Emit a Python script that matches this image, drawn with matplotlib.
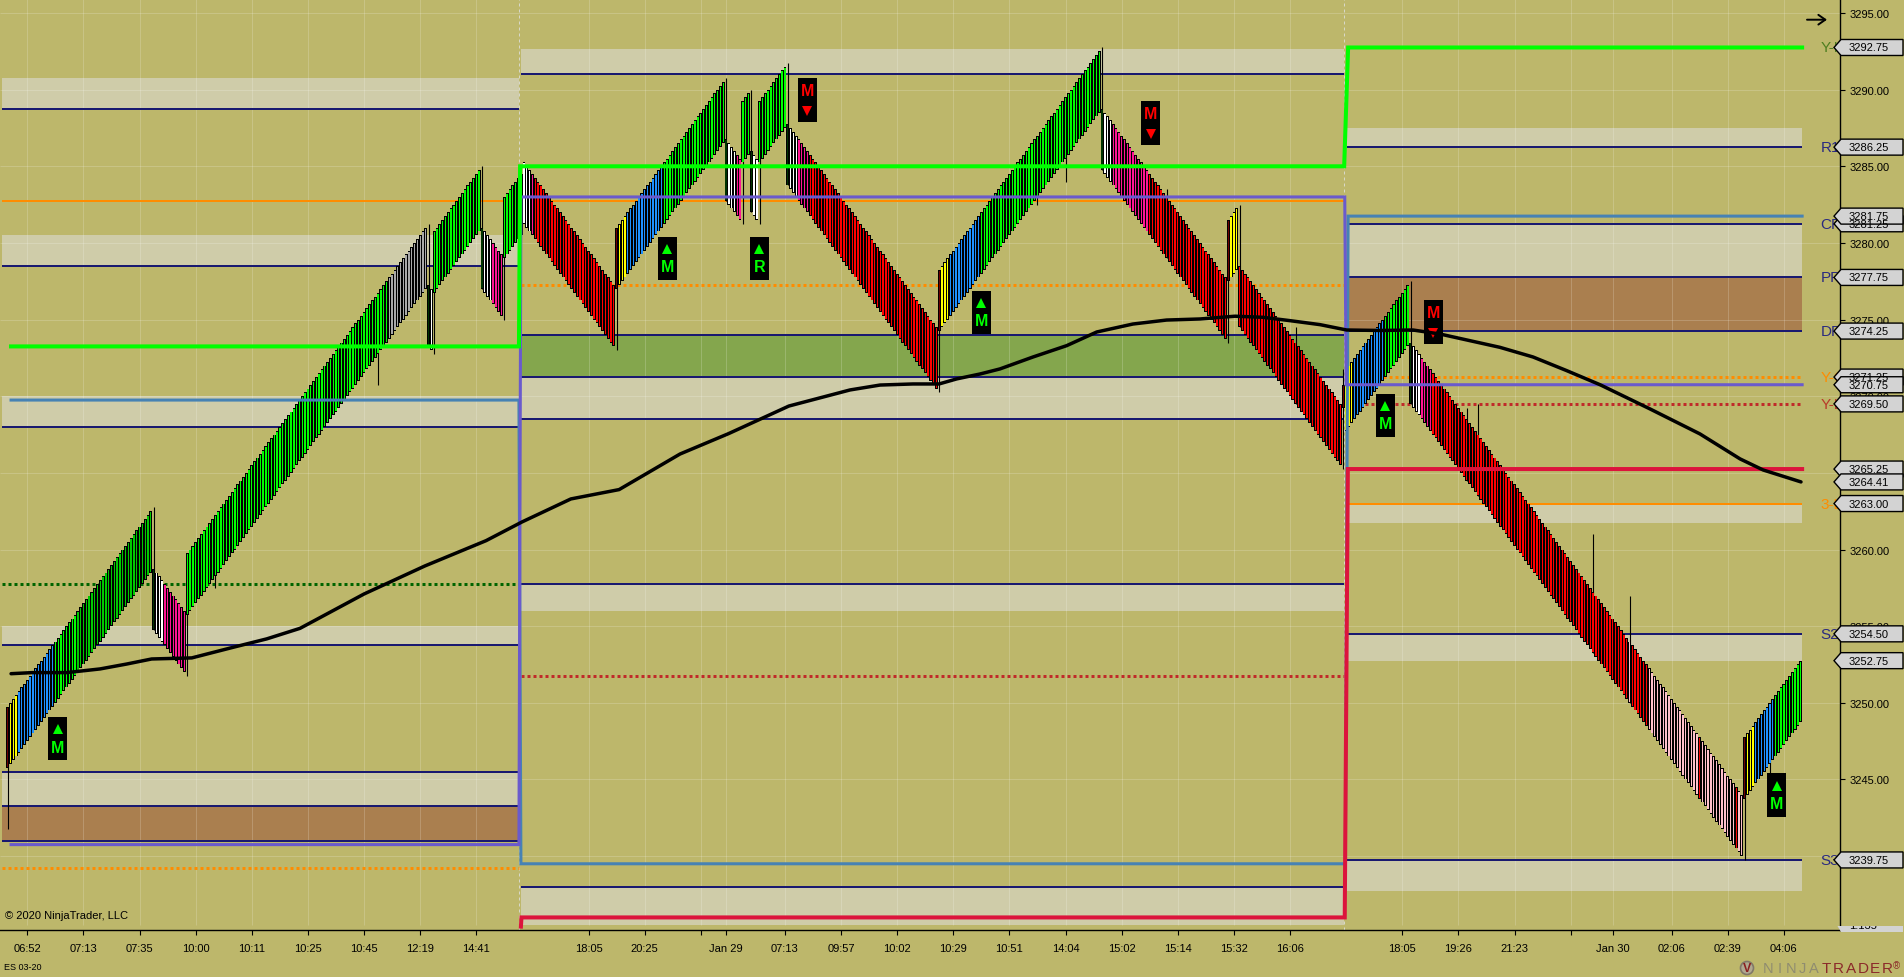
#!/usr/bin/env python
# file name: plot.py
# ES 03-20 renko style chart with session levels

import matplotlib
matplotlib.use('Agg')
import matplotlib.pyplot as plt
from matplotlib.patches import Polygon, Rectangle, Circle
from matplotlib.transforms import IdentityTransform

plt.rcParams['font.family'] = ['Liberation Sans', 'DejaVu Sans']

# closing price of every bar, one row per swing
bar_close = [
    3249.75,3250,3250.25,3250.5,3250.75,3251,3251.25,3251.5,3251.75,3252,3252.25,3252.5,3252.75,
    3253,3253.25,3253.5,3253.75,3254,3254.25,3254.5,3254.75,3255,3255.25,3255.5,3255.75,3256,
    3256.25,3256.5,3256.75,3257,3257.25,3257.5,3257.75,3258,3258.25,3258.5,3258.75,3259,3259.25,
    3259.5,3259.75,3260,3260.25,3260.5,3260.75,3261,3261.25,3261.5,3261.75,3262,3262.25,3262.5,
    3254.75,3254.5,3254.25,3254,3253.75,3253.5,3253.25,3253,3252.75,3252.5,3252.25,3252,
    3259.75,3260,3260.25,3260.5,3260.75,3261,3261.25,3261.5,3261.75,3262,3262.25,3262.5,3262.75,
    3263,3263.25,3263.5,3263.75,3264,3264.25,3264.5,3264.75,3265,3265.25,3265.5,3265.75,3266,
    3266.25,3266.5,3266.75,3267,3267.25,3267.5,3267.75,3268,3268.25,3268.5,3268.75,3269,3269.25,
    3269.5,3269.75,3270,3270.25,3270.5,3270.75,3271,3271.25,3271.5,3271.75,3272,3272.25,3272.5,
    3272.75,3273,3273.25,3273.5,3273.75,3274,3274.25,3274.5,3274.75,3275,3275.25,3275.5,3275.75,
    3276,3276.25,3276.5,3276.75,3277,3277.25,3277.5,3277.75,3278,3278.25,3278.5,3278.75,3279,
    3279.25,3279.5,3279.75,3280,3280.25,3280.5,3280.75,3281,
    3273.25,3273,
    3280.75,3281,3281.25,3281.5,3281.75,3282,3282.25,3282.5,3282.75,3283,3283.25,3283.5,3283.75,
    3284,3284.25,3284.5,3284.75,
    3277,3276.75,3276.5,3276.25,3276,3275.75,3275.5,3275.25,
    3283,3283.25,3283.5,3283.75,3284,3284.25,3284.5,
    3281.25,3281,3280.75,3280.5,3280.25,3280,3279.75,3279.5,3279.25,3279,3278.75,3278.5,3278.25,
    3278,3277.75,3277.5,3277.25,3277,3276.75,3276.5,3276.25,3276,3275.75,3275.5,3275.25,3275,
    3274.75,3274.5,3274.25,3274,3273.75,3273.5,3273.25,
    3281,3281.25,3281.5,3281.75,3282,3282.25,3282.5,3282.75,3283,3283.25,3283.5,3283.75,3284,
    3284.25,3284.5,3284.75,3285,3285.25,3285.5,3285.75,3286,3286.25,3286.5,3286.75,3287,3287.25,
    3287.5,3287.75,3288,3288.25,3288.5,3288.75,3289,3289.25,3289.5,3289.75,3290,3290.25,3290.5,
    3282.75,3282.5,3282.25,3282,3281.75,3281.5,
    3289.25,3289.5,3289.75,
    3282,3281.75,3281.5,
    3289.25,3289.5,3289.75,3290,3290.25,3290.5,3290.75,3291,3291.25,3291.5,
    3283.75,3283.5,3283.25,3283,3282.75,3282.5,3282.25,3282,3281.75,3281.5,3281.25,3281,3280.75,
    3280.5,3280.25,3280,3279.75,3279.5,3279.25,3279,3278.75,3278.5,3278.25,3278,3277.75,3277.5,
    3277.25,3277,3276.75,3276.5,3276.25,3276,3275.75,3275.5,3275.25,3275,3274.75,3274.5,3274.25,
    3274,3273.75,3273.5,3273.25,3273,3272.75,3272.5,3272.25,3272,3271.75,3271.5,3271.25,3271,
    3270.75,3270.5,
    3278.25,3278.5,3278.75,3279,3279.25,3279.5,3279.75,3280,3280.25,3280.5,3280.75,3281,3281.25,
    3281.5,3281.75,3282,3282.25,3282.5,3282.75,3283,3283.25,3283.5,3283.75,3284,3284.25,3284.5,
    3284.75,3285,3285.25,3285.5,3285.75,3286,3286.25,3286.5,3286.75,3287,3287.25,3287.5,3287.75,
    3288,3288.25,3288.5,3288.75,3289,3289.25,3289.5,3289.75,3290,3290.25,3290.5,3290.75,3291,
    3291.25,3291.5,3291.75,3292,3292.25,3292.5,
    3284.75,3284.5,3284.25,3284,3283.75,3283.5,3283.25,3283,3282.75,3282.5,3282.25,3282,3281.75,
    3281.5,3281.25,3281,3280.75,3280.5,3280.25,3280,3279.75,3279.5,3279.25,3279,3278.75,3278.5,
    3278.25,3278,3277.75,3277.5,3277.25,3277,3276.75,3276.5,3276.25,3276,3275.75,3275.5,3275.25,
    3275,3274.75,3274.5,3274.25,3274,3273.75,
    3281.5,3281.75,3282,3282.25,
    3274.5,3274.25,3274,3273.75,3273.5,3273.25,3273,3272.75,3272.5,3272.25,3272,3271.75,3271.5,
    3271.25,3271,3270.75,3270.5,3270.25,3270,3269.75,3269.5,3269.25,3269,3268.75,3268.5,3268.25,
    3268,3267.75,3267.5,3267.25,3267,3266.75,3266.5,3266.25,3266,3265.75,3265.5,
    3270.75,3271.75,
    3272,3272.25,3272.5,3272.75,3273,3273.25,3273.5,3273.75,3274,3274.25,3274.5,3274.75,3275,
    3275.25,3275.5,3275.75,3276,3276.25,3276.5,3276.75,3277,3277.25,
    3269.5,3269.25,3269,3268.75,3268.5,3268.25,3268,3267.75,3267.5,3267.25,3267,3266.75,3266.5,
    3266.25,3266,3265.75,3265.5,3265.25,3265,3264.75,3264.5,3264.25,3264,3263.75,3263.5,3263.25,
    3263,3262.75,3262.5,3262.25,3262,3261.75,3261.5,3261.25,3261,3260.75,3260.5,3260.25,3260,
    3259.75,3259.5,3259.25,3259,3258.75,3258.5,3258.25,3258,3257.75,3257.5,3257.25,3257,3256.75,
    3256.5,3256.25,3256,3255.75,3255.5,3255.25,3255,3254.75,3254.5,3254.25,3254,3253.75,3253.5,
    3253.25,3253,3252.75,3252.5,3252.25,3252,3251.75,3251.5,3251.25,3251,3250.75,3250.5,3250.25,
    3250,3249.75,3249.5,3249.25,3249,3248.75,3248.5,3248.25,3248,3247.75,3247.5,3247.25,3247,
    3246.75,3246.5,3246.25,3246,3245.75,3245.5,3245.25,3245,3244.75,3244.5,3244.25,3244,3243.75,
    3243.5,3243.25,3243,3242.75,3242.5,3242.25,3242,3241.75,3241.5,3241.25,3241,3240.75,3240.5,
    3240.25,3240,
    3247.75,3248,3248.25,3248.5,3248.75,3249,3249.25,3249.5,3249.75,3250,3250.25,3250.5,3250.75,
    3251,3251.25,3251.5,3251.75,3252,3252.25,3252.5,3252.75,
]

# bars whose body is not the usual 4 points
short_bar_open = {476: 3269.25}

# colour of the bars as (number of bars, colour key)
colour_runs = [
    (1,'dr'),(3,'y'),(13,'b'),(8,'l'),(27,'g'),
    (1,'dg'),(3,'w'),(8,'p'),
    (72,'l'),(14,'a'),
    (1,'dg'),(1,'w'),
    (17,'l'),
    (1,'dg'),(3,'w'),(4,'p'),
    (7,'l'),
    (3,'w'),(1,'p'),(29,'r'),
    (1,'dr'),(3,'y'),(13,'b'),(22,'l'),
    (1,'dg'),(3,'w'),(2,'p'),
    (3,'l'),
    (1,'dg'),(2,'w'),
    (10,'l'),
    (1,'dg'),(3,'w'),(4,'p'),(46,'r'),
    (1,'dr'),(3,'y'),(11,'b'),(43,'l'),
    (1,'dg'),(3,'w'),(13,'p'),(28,'r'),
    (1,'dr'),(3,'y'),
    (37,'r'),
    (1,'dr'),(3,'y'),(11,'b'),(9,'l'),
    (1,'dg'),(3,'w'),(4,'p'),(70,'r'),(1,'k'),(6,'r'),(18,'k'),(1,'r'),(12,'k'),(1,'r'),(2,'k'),
    (1,'dr'),(3,'y'),(7,'b'),(10,'l'),
]
bar_colours = {'dr':'#6e0000','y':'#ffff00','b':'#1e90ff','l':'#00ff00','g':'#00c800','a':'#a9a9a9',
               'dg':'#003300','w':'#ffffff','p':'#ff1493','r':'#ff0000','k':'#ffc0cb'}

# wicks: bar index, far end of the wick
wick_bar =   [0,52,64,74,132,150,152,169,177,217,256,262,265,268,278,332,367,377,390,413,435,439,459,476,476,500,520,524,565,578,619,628]
wick_price = [3241.75,3262.75,3251.75,3257.5,3270.75,3281.25,3272.75,3285,3275,3273,3290.75,3281.25,3290,3281.25,3291.75,
              3270.25,3282.5,3284,3292.75,3283.5,3273.5,3282.5,3274.5,3271.75,3265.25,3277.5,3269.25,3269.5,3261,3257,3239.75,3245.25]

# moving average
ema_bar = [1.2,8.7,21,32.9,42.4,51.3,65.6,80.3,92.3,104.2,127,148.7,170.5,183.3,200.7,217.9,239.6,256.9,278.4,300.2,
           310.9,322.6,331.9,338.2,346.5,353.6,365.4,377.4,388.1,401,413,424.9,437.4,447.3,457,467.7,477.2,489.1,
           500.8,510.4,531.8,543.6,555.6,567.5,585.3,603.1,617.4,625.6,639.1]
ema_price = [3251.9,3251.97,3251.97,3252.21,3252.53,3252.86,3252.93,3253.62,3254.17,3254.86,3257.1,3258.93,3260.58,3261.8,
             3263.3,3263.91,3266.23,3267.56,3269.36,3270.41,3270.73,3270.8,3270.8,3271.13,3271.45,3271.78,3272.56,3273.3,
             3274.19,3274.71,3274.97,3275.04,3275.22,3275.15,3274.93,3274.67,3274.32,3274.29,3274.32,3274.06,3273.19,
             3272.56,3271.67,3270.75,3269.17,3267.54,3265.91,3265.19,3264.41]

# x ticks
tick_bar =   [7,27,47,67,87,107,127,147,167,207,227,247,256,277,297,317,337,357,377,397,417,437,457,497,517,537,557,572,593,613,633]
tick_label = ['06:52','07:13','07:35','10:00','10:11','10:25','10:45','12:19','14:41','18:05','20:25','','Jan 29','07:13',
              '09:57','10:02','10:29','10:51','14:04','15:02','15:14','15:32','16:06','18:05','19:26','21:23','','Jan 30',
              '02:06','02:39','04:06']
price_ticks = [3240,3245,3250,3255,3260,3265,3270,3275,3280,3285,3290,3295]

# sessions in bar units
s1 = (-2, 182.2)
s2 = (182.9, 476.3)
s3 = (477.3, 639.5)

# zones: session, top, bottom, colour key
zone_session = [s1,s1,s1,s1,s1,s1, s2,s2,s2,s2,s2, s3,s3,s3,s3,s3,s3]
zone_top =    [3290.75,3280.5,3270,3255,3245.5,3243.25, 3292.65,3274,3271.25,3257.75,3238, 3287.5,3281.25,3277.75,3263,3254.5,3239.75]
zone_bottom = [3288.75,3278.5,3268,3253.75,3243.25,3241, 3291,3271.25,3268.5,3256,3235.5, 3286.25,3277.75,3274.25,3261.75,3252.75,3237.75]
zone_kind =   ['l','l','l','l','l','b', 'l','g','l','l','l', 'l','l','b','l','l','l']
zone_colours = {'l':'#cfcca9','b':'#aa7f4f','g':'#84a64d'}

# thin navy levels
navy_session = [s1,s1,s1,s1,s1,s1,s1, s2,s2,s2,s2,s2,s2, s3,s3,s3,s3,s3,s3]
navy_price = [3288.75,3278.5,3268,3253.75,3245.5,3243.25,3241, 3291,3274,3271.25,3268.5,3257.75,3238,
              3286.25,3281.25,3277.75,3274.25,3254.5,3239.75]

# solid and dotted single levels
orange_session = [s1,s2,s3]
orange_price = [3282.75,3282.75,3263]
dot_session = [s1,s1,s2,s2,s3,s3]
dot_price = [3257.75,3239.25,3277.25,3251.75,3271.25,3269.5]
dot_colour = ['#006400','#ff8c00','#ff8c00','#c02a2a','#ff8c00','#c02a2a']

# stepped session lines
lime_x = [1.2,182.2,182.6,476.3,477.7,639.5]
lime_y = [3273.25,3273.25,3285,3285,3292.75,3292.75]
steel_x = [1.2,182.2,182.9,476.7,477.7,639.5]
steel_y = [3269.75,3269.75,3239.5,3239.5,3281.75,3281.75]
purple_x = [1.2,182.2,182.9,476.5,477,639.5]
purple_y = [3240.75,3240.75,3283,3283,3270.75,3270.75]
crimson_x = [182.9,183.1,476.5,477.6,639.5]
crimson_y = [3235.4,3236,3236,3265.25,3265.25]

# signal boxes
mark_bar = [17.75,235.1,267.9,285,347,407.3,491,508.1,630.4]
mark_price = [3247.66,3278.99,3278.99,3289.33,3275.46,3287.82,3268.74,3274.84,3243.97]
mark_text = ['M','M','R','M','M','M','M','M','M']
mark_up = [True,True,True,False,True,False,True,False,True]

# price tags on the axis, drawn in this order
tag_price = [3292.75,3286.25,3281.25,3281.75,3277.75,3274.25,3271.25,3269.5,3270.75,3265.25,3264.41,3263,3254.5,3252.75,3239.75]
level_price = [3292.75,3286.25,3281.25,3277.75,3274.25,3271.25,3269.5,3263,3254.5,3239.75]
level_name = ['Y-H','R1','CP','PP','DP','Y-C','Y-L','3-L','S2','S3']
level_colour = ['#4f7f20','#2a2a80','#2a2a80','#2a2a80','#2a2a80','#ff8c00','#b83a2a','#ff8c00','#2a2a80','#2a2a80']

BG = '#bdb76b'
W, H = 1904, 978

fig = plt.figure(figsize=(W/100.0, H/100.0), dpi=100, facecolor=BG)
ax = fig.add_axes([0, 1-931.0/H, 1840.0/W, 931.0/H], facecolor=BG)
ax.set_xlim(-2.744, 653.0)
ax.set_ylim(3235.18, 3295.913)

for s, top, bot, kind in zip(zone_session, zone_top, zone_bottom, zone_kind):
    ax.fill_between(s, bot, top, color=zone_colours[kind], lw=0, zorder=1)

# grid is drawn by hand, it stops a little above the axis
ax.vlines(tick_bar, 3235.5, 3295.913, color='white', alpha=0.18, lw=0.72, zorder=1.5)
ax.hlines(price_ticks, -2.744, 653, color='white', alpha=0.18, lw=0.72, zorder=1.5)

for s, p in zip(navy_session, navy_price):
    ax.plot(s, [p, p], color='#191970', lw=1.44, solid_capstyle='butt', zorder=2)
for s, p in zip(orange_session, orange_price):
    ax.plot(s, [p, p], color='#ff8c00', lw=1.44, solid_capstyle='butt', zorder=2)
for s, p, c in zip(dot_session, dot_price, dot_colour):
    ax.plot(s, [p, p], color=c, lw=2.16, linestyle=(0, (1, 1)), dash_capstyle='butt', zorder=2)

# session break
for b in [182.3, 476.3]:
    ax.axvline(b, color='#d8d8c8', lw=0.72, linestyle=(0, (3, 3)), zorder=1.6)

# bars: black body first, then a narrow coloured core so the fill shows on every bar
fill = []
for n, key in colour_runs:
    fill += [bar_colours[key]] * n
x = list(range(len(bar_close)))
ax.vlines(wick_bar, [bar_close[b] for b in wick_bar], wick_price, color='black', lw=0.8, zorder=2.9)
bar_open = []
for i, c in enumerate(bar_close):
    up = i == 0 or c > bar_close[i-1]
    bar_open.append(short_bar_open.get(i, c - 4 if up else c + 4))
low = [min(a, b) for a, b in zip(bar_open, bar_close)]
height = [abs(a - b) for a, b in zip(bar_open, bar_close)]
ax.bar(x, height, bottom=low, width=1.0, color='black', linewidth=0, zorder=3)
ax.bar(x, [h-0.12 for h in height], bottom=[b+0.06 for b in low], width=0.48, color=fill, linewidth=0, zorder=3.1)

# session lines above the bars
ax.plot(steel_x, steel_y, color='#4682b4', lw=2.2, solid_joinstyle='miter', zorder=4)
ax.plot(purple_x, purple_y, color='#6a5acd', lw=2.2, solid_joinstyle='miter', zorder=4.1)
ax.plot(lime_x, lime_y, color='#00ff00', lw=2.9, solid_joinstyle='miter', zorder=4.2)
ax.plot(crimson_x, crimson_y, color='#dc143c', lw=2.9, solid_joinstyle='miter', zorder=4.3)

# signal boxes
for b, p, t, up in zip(mark_bar, mark_price, mark_text, mark_up):
    col = '#00ff00' if up else '#ff0000'
    ax.add_patch(Rectangle((b-3.39, p-1.42), 6.78, 2.84, facecolor='black', edgecolor='none', zorder=5))
    tri_off = 0.62 if up else -0.7
    txt_off = -0.55 if up else 0.6
    ax.plot([b], [p+tri_off], marker='^' if up else 'v', color=col, ms=7.6, mew=0, zorder=5.1)
    ax.text(b, p+txt_off, t, color=col, fontsize=11.5, fontweight='bold', ha='center', va='center', zorder=5.1)

ax.plot(ema_bar, ema_price, color='black', lw=2.5, solid_capstyle='round', solid_joinstyle='round', zorder=6)

# axes
for side in ['top', 'left']:
    ax.spines[side].set_visible(False)
for side in ['right', 'bottom']:
    ax.spines[side].set_linewidth(1.0)
    ax.spines[side].set_color('black')
ax.yaxis.tick_right()
ax.set_yticks(price_ticks)
ax.set_yticklabels(['%.2f' % p for p in price_ticks], fontsize=8, color='black')
ax.set_xticks(tick_bar)
ax.set_xticklabels(tick_label, fontsize=8, color='black')
ax.tick_params(axis='y', length=3.6, width=0.8, pad=3)
ax.tick_params(axis='x', length=3.6, width=0.8, pad=6)

# names of the levels, the tags cover their right end
for p, name, c in zip(level_price, level_name, level_colour):
    y_px = ax.transData.transform((0, p))[1]
    fig.text(1820.5/W, y_px/H, name, color=c, fontsize=11, ha='left', va='center', zorder=2)

# price tags
px = IdentityTransform()
for p in tag_price:
    y_px = ax.transData.transform((0, p))[1]
    pts = [(1834, y_px), (1841, y_px+8), (1903, y_px+8), (1903, y_px-8), (1841, y_px-8)]
    fig.add_artist(Polygon(pts, closed=True, transform=px, facecolor='#d3d3d3', edgecolor='black', lw=1.0, zorder=3))
    fig.text(1849.0/W, y_px/H, '%.2f' % p, color='black', fontsize=8, ha='left', va='center', zorder=4)

# tag of the hidden lower panel, only its foot shows
clip = Rectangle((1834, H-933), 70, 6, transform=px)
foot = Polygon([(1834, H-921), (1841, H-913), (1903, H-913), (1903, H-933), (1841, H-933)], closed=True,
               transform=px, facecolor='#d3d3d3', edgecolor='none', zorder=3)
fig.add_artist(foot)
foot.set_clip_path(clip)
foot_txt = fig.text(1849.0/W, (H-926.0)/H, '1.135', color='black', fontsize=8, ha='left', va='center', zorder=4)
foot_txt.set_clip_path(clip)

# corner texts
fig.text(5.0/W, (H-916.0)/H, '\u00a9 2020 NinjaTrader, LLC', color='black', fontsize=8, ha='left', va='center', zorder=7)
fig.text(4.0/W, (H-968.0)/H, 'ES 03-20', color='black', fontsize=6.5, ha='left', va='center')

# arrow at the top
ax.annotate('', xy=(1827, H-20.7), xytext=(1807, H-20.7), xycoords='figure pixels', textcoords='figure pixels',
            arrowprops=dict(arrowstyle='->,head_length=0.5,head_width=0.35', color='black', lw=1.4, shrinkA=0, shrinkB=0),
            annotation_clip=False)

# logo, letters spaced out by hand
fig.add_artist(Circle((1747, H-969), 6.5, transform=px, facecolor='#b0a890', edgecolor='#807868', lw=1.2))
fig.text(1747.0/W, (H-969.0)/H, 'V', color='#8b2020', fontsize=9, fontweight='bold', ha='center', va='center')
lx = 1768.0
for ch in 'NINJA':
    fig.text(lx/W, (H-969.0)/H, ch, color='#8f8c70', fontsize=10.5, ha='center', va='center')
    lx += 11.4
lx = 1826.0
for ch in 'TRADER':
    fig.text(lx/W, (H-969.0)/H, ch, color='#8b2a2a', fontsize=11, ha='center', va='center')
    lx += 12.3
fig.text(1893.0/W, (H-966.0)/H, '\u00ae', color='#8b2a2a', fontsize=7, ha='left', va='center')

fig.savefig('out.png', dpi=100, facecolor=BG)
